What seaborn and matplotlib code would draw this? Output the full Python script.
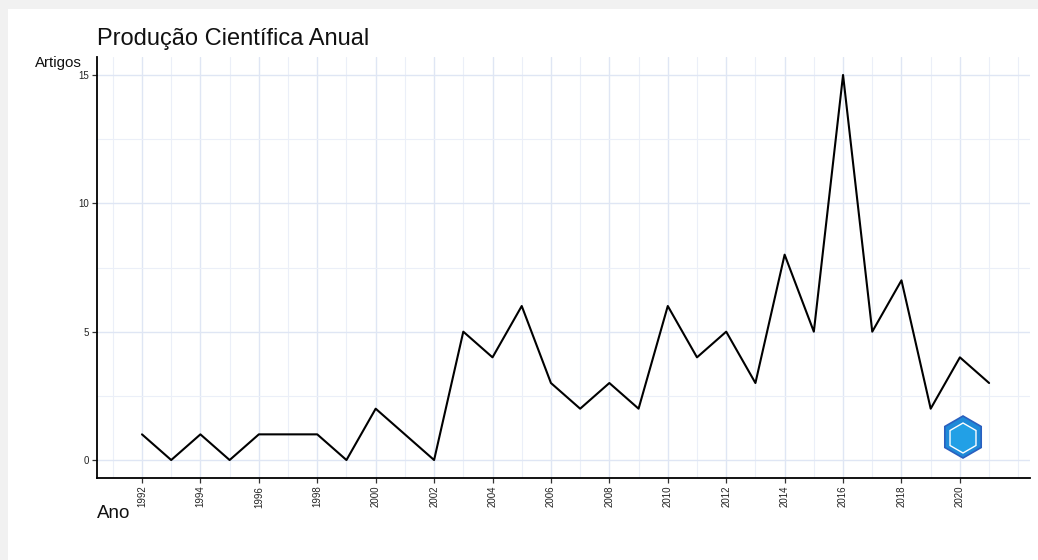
import numpy as np
import pandas as pd
import matplotlib
matplotlib.use("Agg")
import matplotlib.pyplot as plt
from matplotlib.patches import Rectangle, RegularPolygon
from matplotlib.transforms import IdentityTransform
from matplotlib.ticker import MultipleLocator
import seaborn as sns

# Annual article counts
years = list(range(1992, 2022))
articles = [1, 0, 1, 0, 1, 1, 1, 0, 2, 1, 0, 5, 4, 6, 3, 2, 3, 2, 6, 4,
            5, 3, 8, 5, 15, 5, 7, 2, 4, 3]
x_ticks = list(range(1992, 2021, 2))
y_ticks = [0, 5, 10, 15]

title_text = "Produção Científica Anual"
y_title = "Artigos"
x_title = "Ano"

df = pd.DataFrame({"Ano": years, "Artigos": articles})

sns.set_theme(style="white")
plt.rcParams["font.family"] = ["Liberation Sans", "DejaVu Sans"]

W, H = 1038, 560
fig = plt.figure(figsize=(W / 100, H / 100), dpi=100)
fig.patch.set_facecolor("#f1f1f1")
# white card behind everything
card = Rectangle((8 / W, 0), 1 - 8 / W, 1 - 9 / H,
                 transform=fig.transFigure, facecolor="white",
                 edgecolor="none", zorder=-10)
fig.patches.append(card)

ax = fig.add_axes([97 / W, 82 / H, (1030 - 97) / W, (478 - 57) / H])
ax.set_zorder(1)
ax.set_facecolor("white")

sns.lineplot(data=df, x="Ano", y="Artigos", ax=ax, color="black",
             linewidth=1.5, zorder=3)

ax.set_xlim(1990.46, 2022.4)
ax.set_ylim(-0.7, 15.7)
ax.set_xticks(x_ticks)
ax.set_xticklabels([str(t) for t in x_ticks], rotation=90)
ax.set_yticks(y_ticks)
ax.xaxis.set_minor_locator(MultipleLocator(1))
ax.yaxis.set_minor_locator(MultipleLocator(2.5))

ax.grid(True, which="major", color="#dfe6f4", linewidth=1.0, zorder=0)
ax.grid(True, which="minor", color="#ebeff8", linewidth=0.8, zorder=0)
ax.set_axisbelow(True)

for s in ["top", "right"]:
    ax.spines[s].set_visible(False)
for s in ["left", "bottom"]:
    ax.spines[s].set_color("black")
    ax.spines[s].set_linewidth(1.3)

ax.tick_params(axis="both", which="major", length=3.5, width=0.9,
               color="#333333", labelsize=7, labelcolor="#222222",
               bottom=True, left=True, pad=2)
ax.tick_params(axis="both", which="minor", length=0)

ax.set_xlabel("")
ax.set_ylabel("")

fig.text(97 / W, 1 - 45 / H, title_text, fontsize=17, color="#111111",
         ha="left", va="baseline")
fig.text(35 / W, 1 - 67 / H, y_title, fontsize=10.8, color="#111111",
         ha="left", va="baseline")
fig.text(97 / W, 1 - 518 / H, x_title, fontsize=13.5, color="#111111",
         ha="left", va="baseline")

# small hexagonal badge, sized in pixels
cx, cy = 963, H - 437
ax.add_patch(RegularPolygon((cx, cy), numVertices=6, radius=21,
                            orientation=0, transform=IdentityTransform(),
                            facecolor="#1e8ad8", edgecolor="#2a5fbf",
                            linewidth=1.2, zorder=4))
ax.add_patch(RegularPolygon((cx, cy - 1), numVertices=6, radius=15,
                            orientation=0, transform=IdentityTransform(),
                            facecolor="#22a0e6", edgecolor="white",
                            linewidth=1.0, zorder=5))

fig.savefig("out.png", dpi=100, facecolor=fig.get_facecolor())
